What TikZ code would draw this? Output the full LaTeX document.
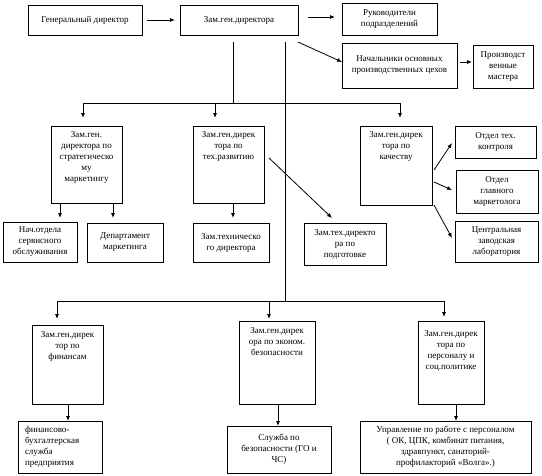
\documentclass[tikz,border=0pt]{standalone}
\usepackage{fontspec}
\setmainfont{Liberation Serif}
\usetikzlibrary{arrows.meta,calc}
\newcommand{\mytopbox}[4]{\parbox[c][#1pt][t]{#2pt}{\centering\vspace*{#3pt}\strut #4\par}}
\begin{document}
\begin{tikzpicture}[x=1pt,y=-1pt,
  box/.style={draw=black, line width=0.8pt, inner sep=0pt, outer sep=0pt, align=center,
    font=\fontsize{9}{11}\selectfont, anchor=north west},
  tbox/.style={draw=black, line width=0.8pt, inner sep=0pt, outer sep=0pt,
    font=\fontsize{9}{11}\selectfont, anchor=north west},
  arr/.style={line width=0.8pt, -{Latex[length=5pt,width=4pt]}},
  ln/.style={line width=0.8pt}]
\useasboundingbox[fill=white] (0,0) rectangle (542,475);

% top row
\node[box, minimum width=114, minimum height=30] (gen) at (28,5) {Генеральный директор};
\node[box, minimum width=118, minimum height=30] (zam) at (180,5) {Зам.ген.директора};
\node[box, minimum width=95, minimum height=32] (ruk) at (342,3) {Руководители\\подразделений};
\node[box, minimum width=115, minimum height=45] (nach) at (342,43) {Начальники основных\\производственных цехов};
\node[box, minimum width=60, minimum height=43] (mast) at (473,45) {Производст\\венные\\мастера};

% second row
\node[tbox] (strat) at (51,126) {\mytopbox{77}{71}{4}{Зам.ген.\\директора по\\стратегическо\\му\\маркетингу}};
\node[tbox] (tech) at (193,126) {\mytopbox{77}{71}{4}{Зам.ген.дирек\\тора по\\тех.развитию}};
\node[tbox] (qual) at (360,126) {\mytopbox{79}{72}{4}{Зам.ген.дирек\\тора по\\качеству}};

\node[box, minimum width=81, minimum height=32] (okt) at (455,126) {Отдел тех.\\контроля};
\node[box, minimum width=82, minimum height=43] (ogm) at (456,170) {Отдел\\главного\\маркетолога};
\node[box, minimum width=83, minimum height=41] (czl) at (455,221) {Центральная\\заводская\\лаборатория};

% third row
\node[box, minimum width=74, minimum height=40] (serv) at (3,222) {Нач.отдела\\сервисного\\обслуживания};
\node[box, minimum width=76, minimum height=39] (dep) at (87,223) {Департамент\\маркетинга};
\node[box, minimum width=76, minimum height=39] (ztd) at (193,223) {Зам.техническо\\го директора};
\node[box, minimum width=82, minimum height=42] (zpod) at (304,223) {Зам.тех.директо\\ра по\\подготовке};

% fourth row
\node[tbox] (fin) at (32,325) {\mytopbox{79}{71}{5}{Зам.ген.дирек\\тор по\\финансам}};
\node[tbox] (econ) at (239,321) {\mytopbox{83}{76}{4.5}{Зам.ген.дирек\\ора по эконом.\\безопасности}};
\node[tbox] (pers) at (418,321) {\mytopbox{83}{66}{7.5}{Зам.ген.дирек\\тора по\\персоналу и\\соц.политике}};

% fifth row
\node[box, minimum width=84, minimum height=52] (fbs) at (18,421) {\parbox{70pt}{\raggedright финансово-\\бухгалтерская\\служба\\предприятия}};
\node[box, minimum width=104, minimum height=47] (sb) at (227,426) {Служба по\\безопасности (ГО и\\ЧС)};
\node[box, minimum width=171, minimum height=52] (upr) at (360,421) {Управление по работе с персоналом\\( ОК, ЦПК, комбинат питания,\\здравпункт, санаторий-\\профилакторий «Волга».)};

% top connectors
\draw[arr] ($(gen.east)+(5,0)$) -- ($(zam.west)+(-5,0)$);
\draw[arr] ($(zam.east)+(10,-3)$) -- ($(ruk.west)+(-7,-2)$);
\draw[arr] ($(zam.south east)+(0,7)$) -- ($(nach.west)+(0,-3.5)$);
\draw[arr] ($(nach.east)+(3,-3.5)$) -- ($(mast.west)+(-1,-4.5)$);

% upper tree
\coordinate (j1) at (233,103);
\draw[ln] ($(zam.south)+(-6,7)$) -- (j1);
\draw[arr] (j1) -| ($(strat.north)+(-3.5,-8)$);
\draw[arr] (j1) -| ($(qual.north)+(4,-8)$);
\draw[arr] ($(tech.north)+(-13.5,-23)$) -- ($(tech.north)+(-13.5,-8)$);

% lower tree
\coordinate (j2) at (285,301);
\draw[ln] ($(zam.south)+(46,7)$) -- (j2);
\draw[arr] (j2) -| ($(fin.north)+(-10.5,-6)$);
\draw[arr] (j2) -| ($(pers.north)+(-7,-4)$);
\draw[arr] ($(econ.north)+(-8,-20)$) -- ($(econ.north)+(-8,-2)$);

% children
\draw[arr] ($(strat.south)+(-26.5,0)$) -- ($(serv.north)+(20,-4)$);
\draw[arr] ($(strat.south)+(26.5,0)$) -- ($(dep.north)+(-12,-5)$);
\draw[arr] ($(tech.south)+(4.5,0)$) -- ($(ztd.north)+(2,-5)$);
\draw[arr] ($(tech.east)+(5,-6.5)$) -- ($(zpod.north)+(-13,-5)$);
\draw[arr] ($(qual.east)+(2,4.5)$) -- ($(okt.west)+(-3,1)$);
\draw[arr] ($(qual.east)+(2,16.5)$) -- ($(ogm.west)+(-4,-1.5)$);
\draw[arr] ($(qual.south east)+(2,0)$) -- ($(czl.west)+(-3,-3.5)$);
\draw[arr] ($(fin.south)+(0.5,0)$) -- ($(fbs.north)+(8,0)$);
\draw[arr] ($(econ.south)+(1,0)$) -- ($(sb.north)+(-1,0)$);
\draw[arr] ($(pers.south)+(5,0)$) -- ($(upr.north)+(10.5,0)$);
\end{tikzpicture}
\end{document}
